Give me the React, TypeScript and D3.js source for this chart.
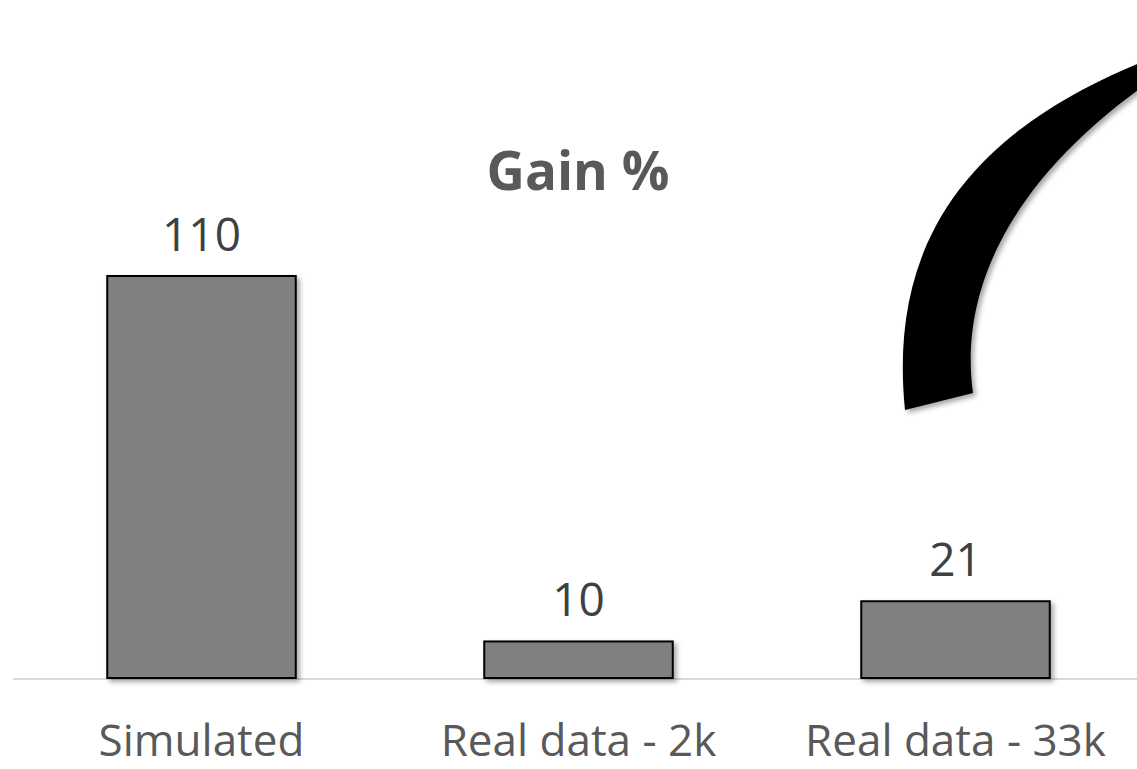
import React, { useEffect, useRef } from 'react';
import * as d3 from 'd3';

const categories = ['Simulated', 'Real data - 2k', 'Real data - 33k'];
const gains = [110, 10, 21];
const title = 'Gain %';

const W = 1137;
const H = 769;

const App = () => {
  const svgRef = useRef<SVGSVGElement | null>(null);

  useEffect(() => {
    document.body.style.margin = '0';
    const svg = d3.select(svgRef.current);
    svg.selectAll('*').remove();
    svg.attr('width', W).attr('height', H);

    const font = '"Open Sans", sans-serif';
    const defs = svg.append('defs');
    const f = defs.append('filter').attr('id', 'shadow').attr('x', '-20%').attr('y', '-20%').attr('width', '140%').attr('height', '140%');
    f.append('feDropShadow').attr('dx', 3).attr('dy', 3).attr('stdDeviation', 2.5).attr('flood-color', '#000').attr('flood-opacity', 0.35);

    const x = d3.scaleBand<string>().domain(categories).range([13, 1144]).paddingInner(0.5).paddingOuter(0.25);
    const y = d3.scaleLinear().domain([0, 110]).range([678, 276]);

    // baseline
    svg.append('line')
      .attr('x1', 13).attr('x2', W)
      .attr('y1', y(0) + 1).attr('y2', y(0) + 1)
      .attr('stroke', '#d9d9d9').attr('stroke-width', 2);

    svg.append('g').selectAll('rect')
      .data(gains)
      .enter()
      .append('rect')
      .attr('x', (d, i) => x(categories[i])!)
      .attr('y', d => y(d))
      .attr('width', x.bandwidth())
      .attr('height', d => y(0) - y(d))
      .attr('fill', '#808080')
      .attr('stroke', '#000')
      .attr('stroke-width', 2)
      .attr('filter', 'url(#shadow)');

    // value labels
    svg.append('g').selectAll('text')
      .data(gains)
      .enter()
      .append('text')
      .attr('x', (d, i) => x(categories[i])! + x.bandwidth() / 2)
      .attr('y', d => y(d) - 25)
      .attr('text-anchor', 'middle')
      .attr('font-family', font)
      .attr('font-size', 46)
      .attr('fill', '#404040')
      .text(d => d);

    // category labels
    svg.append('g').selectAll('text')
      .data(categories)
      .enter()
      .append('text')
      .attr('x', d => x(d)! + x.bandwidth() / 2)
      .attr('y', 756)
      .attr('text-anchor', 'middle')
      .attr('font-family', font)
      .attr('font-size', 44)
      .attr('fill', '#595959')
      .text(d => d);

    svg.append('text')
      .attr('x', 578)
      .attr('y', 190)
      .attr('text-anchor', 'middle')
      .attr('font-family', font)
      .attr('font-weight', 'bold')
      .attr('font-size', 53)
      .attr('fill', '#595959')
      .text(title);

    // curved black decoration
    const p = d3.path();
    p.moveTo(905, 410);
    p.bezierCurveTo(890, 260, 950, 140, 1142, 62);
    p.lineTo(1142, 87);
    p.bezierCurveTo(1000, 190, 960, 300, 973, 393);
    p.closePath();
    svg.append('path')
      .attr('d', p.toString())
      .attr('fill', '#000')
      .attr('filter', 'url(#shadow)');
  }, []);

  return <svg ref={svgRef}></svg>;
};

export default App;
